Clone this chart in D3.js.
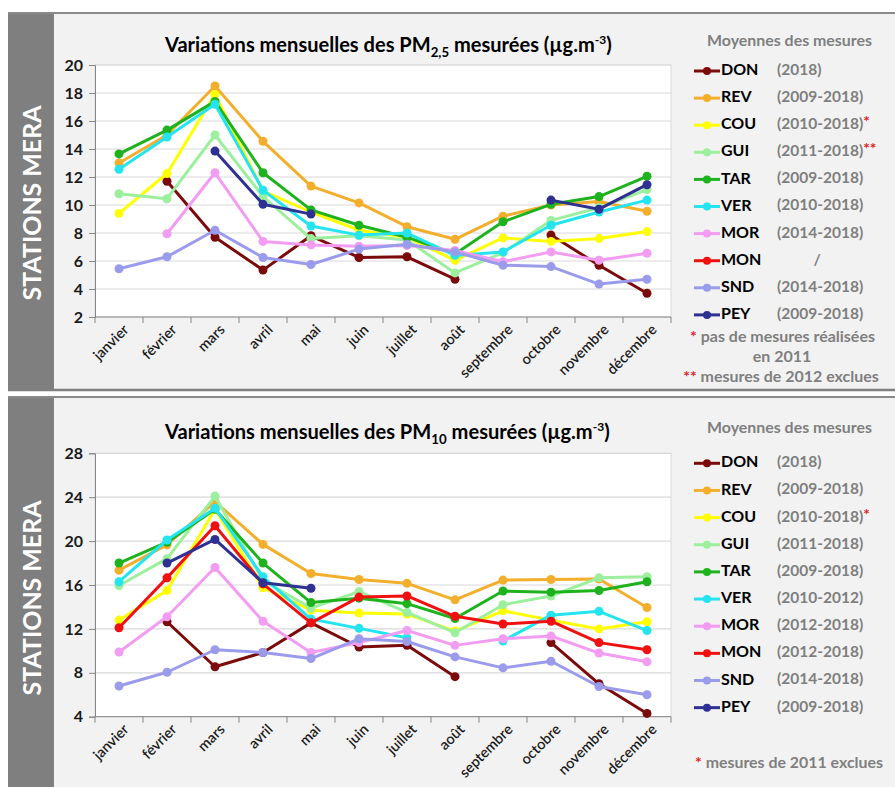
<!DOCTYPE html>
<html><head><meta charset="utf-8">
<script src="https://cdn.jsdelivr.net/npm/d3@7/dist/d3.min.js"></script>
<style>
html,body{margin:0;padding:0;background:#fff;}
svg{display:block;font-family:Lato,"Open Sans",sans-serif;}
</style></head>
<body>
<svg id="chart" width="895" height="787"></svg>
<script>
// ---------- data ----------
const months = ["janvier","février","mars","avril","mai","juin","juillet","août","septembre","octobre","novembre","décembre"];
const stations = ["DON","REV","COU","GUI","TAR","VER","MOR","MON","SND","PEY"];
const stationColors = ["#7b0a0a","#f3af2c","#ffff00","#9cef9c","#1eb21e","#24e4f0","#f29cf2","#f01010","#9b9bec","#2f3192"];

const yTicksPM25 = [2,4,6,8,10,12,14,16,18,20];
const yTicksPM10 = [4,8,12,16,20,24,28];

// PM2,5 monthly means
const pm25DON = [null,11.7,7.7,5.35,7.8,6.25,6.3,4.7,null,7.85,5.7,3.7];
const pm25REV = [13.0,15.0,18.5,14.55,11.35,10.15,8.45,7.55,9.2,10.0,10.25,9.55];
const pm25COU = [9.4,12.25,17.9,11.0,9.5,8.2,7.7,6.05,7.65,7.4,7.6,8.1];
const pm25GUI = [10.8,10.45,15.0,10.6,7.6,7.8,7.5,5.15,6.6,8.9,9.8,11.1];
const pm25TAR = [13.65,15.35,17.4,12.3,9.65,8.55,7.7,6.5,8.8,10.05,10.6,12.05];
const pm25VER = [12.55,14.85,17.2,11.05,8.5,7.85,8.0,6.4,6.65,8.55,9.5,10.35];
const pm25MOR = [null,7.95,12.3,7.4,7.15,7.05,7.1,6.75,5.95,6.65,6.05,6.55];
const pm25MON = [null,null,null,null,null,null,null,null,null,null,null,null];
const pm25SND = [5.45,6.3,8.2,6.25,5.75,6.85,7.2,6.65,5.7,5.6,4.35,4.7];
const pm25PEY = [null,null,13.85,10.05,9.35,null,null,null,null,10.35,9.7,11.45];
const pm25Periods = ["(2018)","(2009-2018)","(2010-2018)","(2011-2018)","(2009-2018)","(2010-2018)","(2014-2018)","/","(2014-2018)","(2009-2018)"];
const pm25Stars = ["","","*","**","","","","","",""];

// PM10 monthly means
const pm10DON = [null,12.65,8.55,9.85,12.55,10.35,10.5,7.65,null,10.75,7.0,4.3];
const pm10REV = [17.35,19.65,23.6,19.7,17.05,16.5,16.15,14.65,16.45,16.5,16.55,13.95];
const pm10COU = [12.8,15.5,22.9,15.75,13.7,13.45,13.35,11.8,13.65,12.8,12.0,12.65];
const pm10GUI = [15.95,18.4,24.1,16.4,13.9,15.4,13.5,11.65,14.2,15.0,16.65,16.75];
const pm10TAR = [18.0,19.9,22.9,18.0,14.4,14.8,14.3,12.95,15.45,15.35,15.5,16.3];
const pm10VER = [16.3,20.1,23.0,16.75,12.9,12.05,11.2,null,10.9,13.25,13.6,11.85];
const pm10MOR = [9.9,13.1,17.6,12.7,9.85,10.75,11.85,10.5,11.1,11.35,9.8,9.0];
const pm10MON = [12.1,16.65,21.4,16.1,12.55,14.9,15.0,13.15,12.45,12.7,10.75,10.1];
const pm10SND = [6.8,8.05,10.1,9.85,9.3,11.1,10.85,9.45,8.45,9.05,6.75,6.0];
const pm10PEY = [null,18.0,20.15,16.2,15.7,null,null,null,null,null,null,null];
const pm10Periods = ["(2018)","(2009-2018)","(2010-2018)","(2011-2018)","(2009-2018)","(2010-2012)","(2012-2018)","(2012-2018)","(2014-2018)","(2009-2018)"];
const pm10Stars = ["","","*","","","","","","",""];

// ---------- drawing ----------
const svg = d3.select("#chart");
const GREY_TXT = "#7f7f7f", RED = "#e0242b";

function fitWidth(sel, w){
  const n = sel.node(); const l = n.getComputedTextLength();
  const fs = parseFloat(sel.attr("font-size"));
  if (l > 0) sel.attr("font-size", (fs * w / l).toFixed(2));
  return sel;
}

function buildTitle(g, cfg, fs){
  const t = g.append("text").attr("x",cfg.titleX).attr("y",cfg.titleY)
    .attr("font-size",fs).attr("font-weight","bold").attr("fill","#000");
  t.append("tspan").text("Variations mensuelles des PM");
  t.append("tspan").attr("font-size",fs*0.66).attr("dy",fs*0.25).text(cfg.sub);
  t.append("tspan").attr("dy",-fs*0.25).text(" mesurées (µg.m");
  t.append("tspan").attr("font-size",fs*0.6).attr("dy",-fs*0.42).text("-3");
  t.append("tspan").attr("dy",fs*0.42).text(")");
  return t;
}

function drawPanel(cfg){
  const g = svg.append("g");
  // panel background
  g.append("rect").attr("x",8).attr("y",cfg.top).attr("width",887).attr("height",cfg.bottom-cfg.top).attr("fill","#f2f2f2");
  g.append("rect").attr("x",8).attr("y",cfg.top).attr("width",46).attr("height",cfg.bottom-cfg.top).attr("fill","#7f7f7f");
  g.append("line").attr("x1",8).attr("x2",895).attr("y1",cfg.top+1).attr("y2",cfg.top+1).attr("stroke","#8a8a8a").attr("stroke-width",2);
  if (cfg.bottomLine) g.append("line").attr("x1",8).attr("x2",895).attr("y1",cfg.bottom-1).attr("y2",cfg.bottom-1).attr("stroke","#7f7f7f").attr("stroke-width",2.5);
  const st = g.append("text").attr("transform",`translate(31,${cfg.bandMid}) rotate(-90)`)
    .attr("text-anchor","middle").attr("dominant-baseline","central")
    .attr("font-size",22).attr("font-weight","bold").attr("fill","#ffffff").text("STATIONS MERA");
  fitWidth(st,195);

  // scales
  const x = d3.scaleBand().domain(months).range([95,671]).padding(0);
  const y = d3.scaleLinear().domain(cfg.yDomain).range(cfg.yRange);
  const cx = m => x(m) + x.bandwidth()/2;

  // plot area
  g.append("rect").attr("x",95).attr("y",y(cfg.yDomain[1])).attr("width",576)
    .attr("height",y(cfg.yDomain[0])-y(cfg.yDomain[1])).attr("fill","#ffffff").attr("stroke","#d9d9d9");
  g.selectAll(null).data(cfg.yTicks.slice(1)).join("line")
    .attr("x1",95).attr("x2",671).attr("y1",d=>y(d)).attr("y2",d=>y(d)).attr("stroke","#d9d9d9").attr("stroke-width",1.2);

  // y axis
  const ya = g.append("g").attr("transform","translate(95,0)")
    .call(d3.axisLeft(y).tickValues(cfg.yTicks).tickSize(6).tickPadding(6).tickFormat(d3.format("d")));
  ya.select(".domain").attr("stroke","#868686");
  ya.selectAll(".tick line").attr("stroke","#868686");
  ya.selectAll(".tick text").attr("font-family","Lato, sans-serif").attr("font-size",16).attr("font-weight","bold").attr("fill","#1a1a1a");

  // x axis: ticks at category boundaries
  const yb = y(cfg.yDomain[0]);
  g.append("line").attr("x1",95).attr("x2",671).attr("y1",yb).attr("y2",yb).attr("stroke","#868686");
  const bounds = months.map(m => x(m)).concat([x.range()[1]]);
  g.selectAll(null).data(bounds).join("line")
    .attr("x1",d=>d).attr("x2",d=>d).attr("y1",yb).attr("y2",yb+6).attr("stroke","#868686");
  g.selectAll(null).data(months).join("text")
    .attr("transform",m=>`translate(${cx(m)+8},${yb+11}) rotate(-45)`)
    .attr("text-anchor","end").attr("dominant-baseline","middle")
    .attr("font-size",14.5).attr("font-weight",600).attr("fill","#1a1a1a").text(m=>m);

  // series
  const line = d3.line().defined(d=>d.v!=null).x(d=>cx(d.m)).y(d=>y(d.v));
  cfg.series.forEach((vals,i)=>{
    const pts = vals.map((v,j)=>({m:months[j],v}));
    g.append("path").datum(pts).attr("d",line).attr("fill","none")
      .attr("stroke",stationColors[i]).attr("stroke-width",3).attr("stroke-linejoin","round");
    g.selectAll(null).data(pts.filter(p=>p.v!=null)).join("circle")
      .attr("cx",p=>cx(p.m)).attr("cy",p=>y(p.v)).attr("r",4.5).attr("fill",stationColors[i]);
  });

  // title (fitted to the reference width)
  let t = buildTitle(g, cfg, 17);
  const l = t.node().getComputedTextLength();
  t.remove();
  buildTitle(g, cfg, 17 * cfg.titleW / l);

  // legend
  const h = g.append("text").attr("x",789.5).attr("y",cfg.legHeadY).attr("text-anchor","middle")
    .attr("dominant-baseline","middle").attr("font-size",15).attr("font-weight","bold").attr("fill",GREY_TXT)
    .text("Moyennes des mesures");
  fitWidth(h,165);
  stations.forEach((s,i)=>{
    const ry = cfg.rowY0 + i*cfg.rowStep;
    g.append("line").attr("x1",694).attr("x2",720).attr("y1",ry).attr("y2",ry).attr("stroke",stationColors[i]).attr("stroke-width",3);
    g.append("circle").attr("cx",707).attr("cy",ry).attr("r",4).attr("fill",stationColors[i]);
    g.append("text").attr("x",721).attr("y",ry).attr("dominant-baseline","middle").attr("font-size",16)
      .attr("font-weight","bold").attr("fill","#000").text(s);
    const p = cfg.periods[i];
    const pt = g.append("text").attr("y",ry).attr("dominant-baseline","middle").attr("font-size",15.5)
      .attr("font-weight","bold").attr("fill",GREY_TXT);
    if (p === "/") pt.attr("x",817).attr("text-anchor","middle").text(p);
    else pt.attr("x",777).text(p);
    if (cfg.stars[i]) pt.append("tspan").attr("fill",RED).attr("dy",-2).text(cfg.stars[i]);
  });
  let noteFs = null;
  cfg.notes.forEach(n=>{
    const nt = g.append("text").attr("x",n.x).attr("y",n.y).attr("text-anchor","middle")
      .attr("dominant-baseline","middle").attr("font-size",noteFs || 15).attr("font-weight","bold").attr("fill",GREY_TXT);
    if (n.star) nt.append("tspan").attr("fill",RED).text(n.star + " ");
    nt.append("tspan").text(n.text);
    if (n.w) { fitWidth(nt, n.w); noteFs = parseFloat(nt.attr("font-size")); }
  });
}

drawPanel({
  top:12, bottom:391, bottomLine:true, bandMid:203,
  yDomain:[2,20], yRange:[317,65], yTicks:yTicksPM25,
  sub:"2,5", titleX:165, titleY:52, titleW:447,
  series:[pm25DON,pm25REV,pm25COU,pm25GUI,pm25TAR,pm25VER,pm25MOR,pm25MON,pm25SND,pm25PEY],
  periods:pm25Periods, stars:pm25Stars,
  legHeadY:42, rowY0:71, rowStep:27.1,
  notes:[{x:782.5,y:338,star:"*",text:"pas de mesures réalisées",w:185},{x:782,y:358,text:"en 2011"},{x:781,y:378,star:"**",text:"mesures de 2012 exclues"}]
});
drawPanel({
  top:396, bottom:787, bottomLine:false, bandMid:598,
  yDomain:[4,28], yRange:[716.7,453.3], yTicks:yTicksPM10,
  sub:"10", titleX:165, titleY:439, titleW:445,
  series:[pm10DON,pm10REV,pm10COU,pm10GUI,pm10TAR,pm10VER,pm10MOR,pm10MON,pm10SND,pm10PEY],
  periods:pm10Periods, stars:pm10Stars,
  legHeadY:428.5, rowY0:463.3, rowStep:27.15,
  notes:[{x:789,y:763.5,star:"*",text:"mesures de 2011 exclues",w:188}]
});
</script>
</body></html>
